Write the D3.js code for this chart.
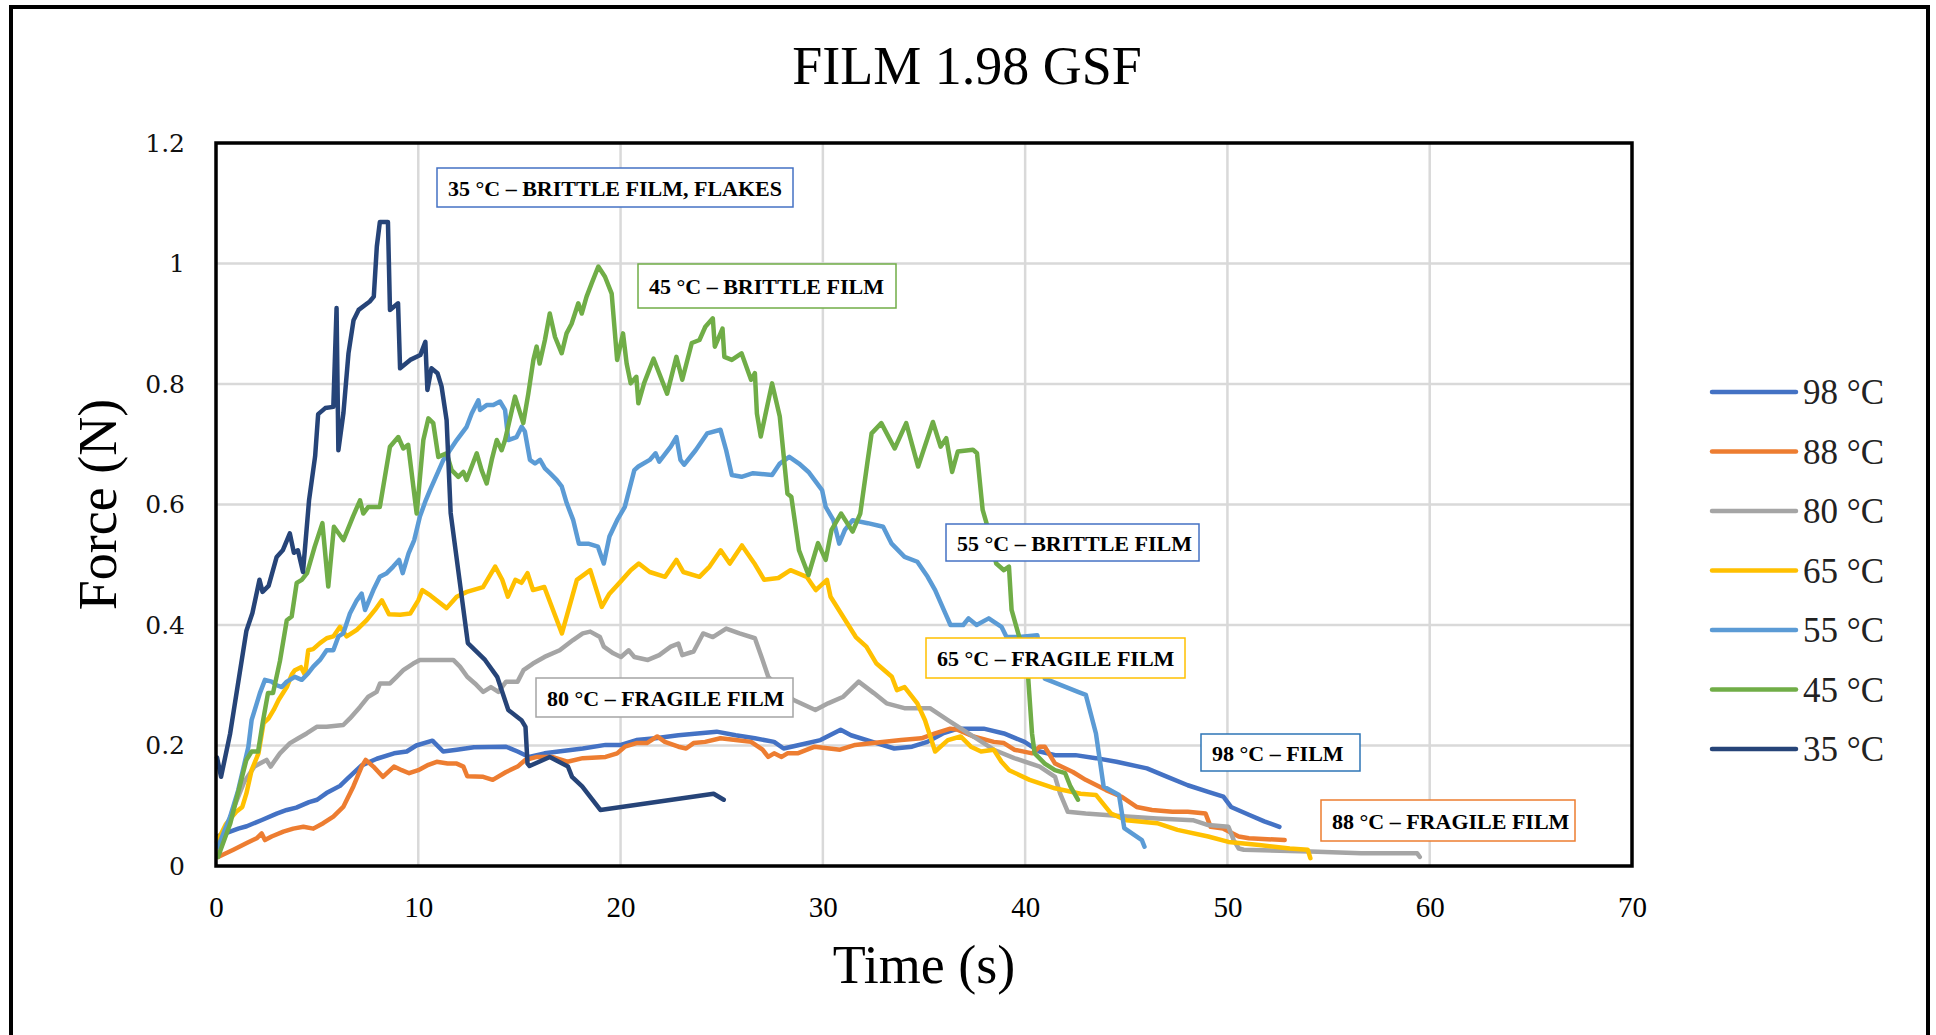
<!DOCTYPE html>
<html>
<head>
<meta charset="utf-8">
<script src="https://cdn.jsdelivr.net/npm/d3@7/dist/d3.min.js"></script>
<style>
    body { margin: 0; background: #fff; }
</style>
</head>
<body>
<svg id="chart" width="1936" height="1035"></svg>
<script>
// ---- data (time s, force N) ----
var xTicks = [0, 10, 20, 30, 40, 50, 60, 70];
var yTicks = [0, 0.2, 0.4, 0.6, 0.8, 1, 1.2];
var seriesNames = ["98 °C", "88 °C", "80 °C", "65 °C", "55 °C", "45 °C", "35 °C"];

var f98 = [[0.06,0.049],[0.53,0.055],[1.1,0.062],[1.52,0.066],[2.24,0.076],[3.0,0.087],[3.5,0.093],[3.97,0.097],[4.6,0.106],[5.0,0.11],[5.46,0.121],[6.13,0.133],[6.5,0.145],[7.2,0.167],[7.95,0.178],[8.8,0.187],[9.43,0.19],[9.9,0.2],[10.7,0.208],[11.23,0.19],[11.9,0.193],[12.75,0.197],[14.34,0.198],[14.91,0.19],[15.48,0.181],[16.24,0.187],[18.13,0.195],[19.26,0.201],[20.02,0.201],[20.78,0.209],[21.72,0.212],[22.86,0.217],[23.8,0.22],[24.75,0.223],[25.69,0.217],[26.64,0.212],[27.59,0.206],[28.06,0.195],[28.72,0.2],[29.88,0.209],[30.88,0.226],[31.39,0.217],[32.65,0.204],[33.53,0.195],[34.41,0.198],[35.17,0.206],[35.93,0.22],[36.68,0.228],[37.95,0.228],[38.95,0.22],[39.97,0.206],[40.72,0.19],[41.48,0.184],[42.49,0.184],[43.5,0.179],[44.51,0.173],[46.02,0.162],[47.03,0.148],[48.04,0.134],[49.05,0.123],[49.8,0.115],[50.18,0.098],[51.06,0.085],[51.82,0.074],[52.57,0.065]];

var f88 = [[0.1,0.015],[0.86,0.027],[1.52,0.038],[2.01,0.046],[2.26,0.054],[2.42,0.043],[2.75,0.049],[3.33,0.057],[3.82,0.062],[4.32,0.065],[4.81,0.062],[5.3,0.071],[5.8,0.082],[6.29,0.098],[6.79,0.132],[7.2,0.165],[7.4,0.176],[7.78,0.165],[8.25,0.148],[8.8,0.165],[9.18,0.159],[9.55,0.154],[10.0,0.159],[10.5,0.168],[10.91,0.173],[11.45,0.17],[11.9,0.17],[12.23,0.165],[12.42,0.149],[13.21,0.148],[13.68,0.143],[14.34,0.156],[14.91,0.165],[15.29,0.176],[15.86,0.181],[16.61,0.181],[17.37,0.173],[18.13,0.179],[19.26,0.181],[19.83,0.187],[20.21,0.198],[20.78,0.204],[21.3,0.204],[21.81,0.215],[22.19,0.206],[22.86,0.198],[23.24,0.195],[23.61,0.204],[24.18,0.206],[24.94,0.212],[25.69,0.209],[26.45,0.206],[27.02,0.193],[27.3,0.181],[27.59,0.187],[27.96,0.181],[28.25,0.187],[28.75,0.187],[29.6,0.198],[30.85,0.193],[31.6,0.201],[32.48,0.204],[33.87,0.209],[34.87,0.212],[35.55,0.22],[36.3,0.228],[36.68,0.226],[37.44,0.215],[38.45,0.206],[38.95,0.204],[39.46,0.193],[40.35,0.187],[40.72,0.198],[40.97,0.198],[41.48,0.17],[42.36,0.156],[42.99,0.143],[44.0,0.126],[44.76,0.115],[45.51,0.098],[46.27,0.093],[47.28,0.09],[48.04,0.09],[48.92,0.087],[49.17,0.065],[49.8,0.062],[50.56,0.049],[51.06,0.046],[52.83,0.043]];

var f80 = [[0.1,0.02],[0.8,0.09],[1.4,0.14],[1.9,0.165],[2.17,0.17],[2.5,0.176],[2.7,0.165],[3.16,0.187],[3.66,0.204],[4.07,0.212],[4.48,0.22],[4.98,0.231],[5.47,0.231],[6.29,0.234],[6.62,0.245],[7.12,0.264],[7.53,0.281],[7.94,0.289],[8.11,0.303],[8.6,0.303],[8.93,0.314],[9.26,0.325],[9.75,0.336],[10.08,0.342],[10.74,0.342],[11.73,0.342],[12.06,0.331],[12.42,0.314],[12.8,0.303],[13.21,0.289],[13.59,0.297],[13.96,0.289],[14.34,0.306],[14.91,0.306],[15.2,0.325],[15.67,0.336],[16.24,0.347],[16.99,0.358],[17.65,0.375],[18.13,0.386],[18.5,0.389],[18.98,0.38],[19.17,0.364],[19.64,0.353],[20.02,0.347],[20.4,0.358],[20.68,0.347],[21.35,0.342],[21.91,0.35],[22.48,0.364],[22.86,0.369],[23.05,0.35],[23.61,0.356],[24.08,0.386],[24.56,0.38],[25.22,0.394],[25.88,0.386],[26.64,0.378],[27.02,0.342],[27.3,0.314],[28.15,0.287],[28.53,0.276],[29.63,0.259],[30.26,0.27],[31.01,0.281],[31.77,0.306],[32.52,0.287],[33.15,0.27],[34.03,0.262],[35.29,0.262],[36.18,0.242],[37.2,0.22],[38.45,0.193],[39.46,0.179],[40.72,0.165],[41.48,0.148],[41.73,0.12],[42.11,0.09],[42.99,0.087],[45.01,0.082],[46.52,0.079],[48.29,0.076],[49.05,0.068],[50.05,0.065],[50.31,0.043],[50.56,0.029],[50.81,0.027],[54.09,0.024],[56.61,0.021],[59.38,0.021],[59.51,0.015]];

var f65 = [[0.05,0.04],[0.5,0.07],[1.0,0.09],[1.3,0.098],[1.5,0.12],[1.76,0.159],[2.1,0.187],[2.35,0.237],[2.6,0.245],[2.85,0.259],[3.1,0.276],[3.5,0.297],[3.75,0.318],[3.9,0.325],[4.2,0.33],[4.4,0.317],[4.56,0.358],[4.8,0.36],[5.14,0.37],[5.47,0.378],[5.8,0.381],[6.13,0.397],[6.46,0.381],[6.96,0.392],[7.45,0.408],[7.86,0.425],[8.2,0.441],[8.55,0.418],[9.1,0.417],[9.6,0.419],[10.0,0.441],[10.2,0.458],[10.6,0.449],[11.4,0.428],[11.9,0.447],[12.4,0.455],[13.2,0.463],[13.8,0.497],[14.15,0.475],[14.43,0.447],[14.8,0.475],[15.1,0.47],[15.4,0.486],[15.67,0.458],[16.23,0.463],[17.1,0.386],[17.84,0.475],[18.5,0.491],[19.07,0.43],[19.45,0.452],[20.0,0.472],[20.5,0.491],[20.9,0.502],[21.44,0.488],[22.2,0.48],[22.76,0.508],[23.1,0.488],[23.9,0.48],[24.4,0.497],[24.95,0.524],[25.4,0.502],[26.0,0.532],[26.6,0.503],[27.1,0.475],[27.8,0.478],[28.4,0.491],[29.2,0.48],[29.65,0.458],[30.2,0.475],[30.38,0.447],[31.63,0.38],[32.15,0.364],[32.65,0.336],[33.41,0.314],[33.66,0.292],[34.04,0.297],[34.67,0.27],[35.05,0.242],[35.55,0.19],[36.18,0.209],[36.81,0.215],[37.32,0.198],[37.82,0.19],[38.45,0.193],[38.83,0.173],[39.21,0.159],[40.22,0.143],[41.47,0.129],[42.74,0.12],[43.5,0.118],[44.25,0.087],[45.01,0.076],[46.52,0.071],[47.53,0.06],[49.05,0.049],[50.05,0.04],[51.57,0.035],[53.08,0.029],[53.97,0.027],[54.1,0.013]];

var f55 = [[0.1,0.032],[0.7,0.082],[1.1,0.126],[1.6,0.198],[1.76,0.242],[2.17,0.287],[2.42,0.309],[2.75,0.306],[3.0,0.3],[3.25,0.297],[3.5,0.306],[3.9,0.314],[4.24,0.309],[4.56,0.32],[4.81,0.331],[5.14,0.342],[5.47,0.358],[5.8,0.358],[6.05,0.381],[6.29,0.386],[6.62,0.419],[6.96,0.441],[7.2,0.452],[7.37,0.425],[7.78,0.458],[8.1,0.48],[8.44,0.486],[8.76,0.497],[9.05,0.508],[9.23,0.486],[9.52,0.519],[9.8,0.541],[10.08,0.58],[10.37,0.607],[10.58,0.624],[11.24,0.674],[11.9,0.707],[12.39,0.729],[12.64,0.751],[12.97,0.773],[13.05,0.757],[13.38,0.765],[13.71,0.765],[14.04,0.771],[14.29,0.757],[14.45,0.707],[14.86,0.712],[15.11,0.729],[15.27,0.721],[15.52,0.674],[15.77,0.668],[16.02,0.674],[16.26,0.66],[16.51,0.652],[16.84,0.641],[17.09,0.63],[17.34,0.602],[17.66,0.574],[17.94,0.535],[18.4,0.535],[18.88,0.53],[19.17,0.502],[19.45,0.547],[19.83,0.574],[20.21,0.596],[20.68,0.657],[20.88,0.663],[21.44,0.674],[21.73,0.685],[21.91,0.671],[22.48,0.696],[22.76,0.712],[22.96,0.674],[23.14,0.666],[23.71,0.69],[24.28,0.718],[24.94,0.724],[25.22,0.69],[25.5,0.649],[25.98,0.646],[26.55,0.652],[27.49,0.649],[27.87,0.668],[28.34,0.679],[28.82,0.668],[29.29,0.654],[29.96,0.624],[30.14,0.596],[30.52,0.574],[30.81,0.535],[31.09,0.558],[31.47,0.574],[32.22,0.569],[32.98,0.563],[33.4,0.535],[34.04,0.513],[34.67,0.505],[35.18,0.48],[35.55,0.458],[36.06,0.419],[36.31,0.4],[36.94,0.4],[37.2,0.411],[37.6,0.4],[38.2,0.411],[38.83,0.397],[39.08,0.38],[39.71,0.38],[40.6,0.383],[40.97,0.311],[42.61,0.289],[43.0,0.284],[43.5,0.22],[43.88,0.132],[44.64,0.118],[44.9,0.063],[45.77,0.043],[45.9,0.032]];

var f45 = [[0.1,0.015],[0.7,0.07],[1.5,0.176],[1.76,0.19],[2.08,0.19],[2.32,0.24],[2.57,0.287],[2.82,0.287],[3.16,0.34],[3.5,0.408],[3.74,0.414],[3.99,0.47],[4.24,0.475],[4.5,0.486],[4.88,0.53],[5.26,0.569],[5.55,0.464],[5.83,0.563],[6.3,0.541],[6.77,0.58],[7.12,0.607],[7.28,0.585],[7.53,0.596],[8.1,0.596],[8.6,0.696],[9.01,0.712],[9.26,0.693],[9.5,0.699],[9.92,0.585],[10.25,0.707],[10.5,0.743],[10.74,0.735],[10.99,0.679],[11.4,0.685],[11.65,0.657],[11.98,0.646],[12.23,0.654],[12.39,0.641],[12.89,0.685],[13.13,0.657],[13.38,0.635],[13.63,0.674],[13.88,0.707],[14.12,0.69],[14.29,0.707],[14.78,0.779],[15.19,0.735],[15.44,0.784],[15.69,0.84],[15.85,0.862],[16.0,0.834],[16.26,0.873],[16.5,0.917],[16.76,0.878],[17.09,0.851],[17.33,0.884],[17.58,0.9],[17.91,0.934],[18.08,0.917],[18.32,0.945],[18.57,0.967],[18.9,0.995],[19.23,0.978],[19.56,0.95],[19.83,0.84],[20.12,0.884],[20.3,0.834],[20.5,0.801],[20.78,0.812],[20.88,0.768],[21.16,0.801],[21.63,0.842],[22.3,0.784],[22.76,0.845],[23.05,0.807],[23.52,0.868],[23.9,0.873],[24.19,0.895],[24.56,0.909],[24.66,0.862],[25.04,0.892],[25.13,0.845],[25.5,0.84],[25.98,0.851],[26.45,0.807],[26.64,0.818],[26.74,0.751],[26.93,0.713],[27.49,0.801],[27.87,0.746],[28.25,0.618],[28.44,0.613],[28.82,0.524],[29.29,0.483],[29.76,0.536],[30.14,0.508],[30.43,0.558],[30.9,0.585],[31.47,0.555],[31.85,0.585],[32.22,0.674],[32.41,0.718],[32.89,0.735],[33.55,0.693],[34.12,0.735],[34.71,0.663],[35.44,0.737],[35.82,0.696],[36.1,0.71],[36.39,0.654],[36.67,0.688],[37.42,0.691],[37.62,0.685],[37.9,0.591],[38.09,0.569],[38.57,0.502],[38.95,0.491],[39.2,0.497],[39.33,0.425],[39.71,0.38],[40.09,0.342],[40.34,0.22],[40.47,0.187],[40.97,0.17],[41.47,0.159],[41.98,0.154],[42.24,0.132],[42.61,0.11]];

var f35 = [[0.05,0.18],[0.25,0.148],[0.7,0.22],[1.5,0.39],[1.8,0.42],[2.15,0.475],[2.3,0.455],[2.6,0.465],[3.0,0.513],[3.3,0.524],[3.65,0.552],[3.85,0.52],[4.05,0.524],[4.3,0.488],[4.6,0.607],[4.9,0.68],[5.05,0.75],[5.4,0.76],[5.8,0.762],[5.96,0.926],[6.05,0.69],[6.3,0.752],[6.55,0.851],[6.8,0.906],[7.05,0.923],[7.6,0.937],[7.8,0.945],[7.95,1.028],[8.1,1.069],[8.5,1.069],[8.6,0.923],[9.0,0.934],[9.1,0.826],[9.6,0.84],[10.1,0.848],[10.35,0.87],[10.45,0.79],[10.65,0.826],[10.95,0.818],[11.15,0.796],[11.4,0.74],[11.6,0.586],[12.45,0.37],[13.3,0.342],[13.9,0.314],[14.45,0.259],[15.1,0.242],[15.3,0.231],[15.4,0.17],[15.5,0.166],[16.5,0.181],[17.4,0.165],[17.6,0.148],[18.1,0.132],[19.0,0.093],[24.6,0.12],[25.1,0.11]];

var allSeries = [f98, f88, f80, f65, f55, f45, f35];
var colors = ["#4472C4", "#ED7D31", "#A5A5A5", "#FFC000", "#5B9BD5", "#70AD47", "#264478"];

var noteTexts = ["35 °C – BRITTLE FILM, FLAKES", "45 °C – BRITTLE FILM", "55 °C – BRITTLE FILM",
    "65 °C – FRAGILE FILM", "80 °C – FRAGILE FILM", "98 °C – FILM", "88 °C – FRAGILE FILM"];
// box layout in page pixels: left, top, width, height, border colour
var noteBoxes = [[437, 168, 356, 39, "#4472C4"], [638, 264, 258, 44, "#70AD47"], [946, 524, 253, 37, "#4472C4"],
    [926, 638, 259, 40, "#FFC000"], [536, 678, 257, 39, "#A5A5A5"], [1201, 734, 159, 37, "#2E75B6"],
    [1321, 800, 254, 41, "#ED7D31"]];

// ---- layout ----
var margin = { top: 143, right: 304, bottom: 169, left: 216 },
    W = 1936, H = 1035,
    width = W - margin.left - margin.right,
    height = H - margin.top - margin.bottom;

var serif = "'Liberation Serif', 'Times New Roman', serif";

var svg = d3.select("#chart");

// outer frame (open at the bottom, as in the picture)
svg.append("path")
    .attr("d", "M11,1040 V7 H1928 V1040")
    .attr("fill", "none")
    .attr("stroke", "#000")
    .attr("stroke-width", 4);

svg.append("text")
    .attr("x", 967).attr("y", 84)
    .attr("text-anchor", "middle")
    .style("font-family", serif).style("font-size", "54px")
    .text("FILM 1.98 GSF");

var g = svg.append("g").attr("transform", "translate(" + margin.left + "," + margin.top + ")");

var x = d3.scaleLinear().domain([0, 70]).range([0, width]);
var y = d3.scaleLinear().domain([0, 1.2]).range([height, 0]);

// grid
g.append("g").selectAll("line.v")
    .data(xTicks.slice(1, -1))
    .join("line")
    .attr("x1", d => x(d)).attr("x2", d => x(d))
    .attr("y1", 0).attr("y2", height)
    .attr("stroke", "#d9d9d9").attr("stroke-width", 2.5);
g.append("g").selectAll("line.h")
    .data(yTicks.slice(1, -1))
    .join("line")
    .attr("x1", 0).attr("x2", width)
    .attr("y1", d => y(d)).attr("y2", d => y(d))
    .attr("stroke", "#d9d9d9").attr("stroke-width", 2.5);

// axes labels (drawn with d3 axes, lines hidden)
var xAxis = g.append("g")
    .attr("transform", "translate(0," + height + ")")
    .call(d3.axisBottom(x).tickValues(xTicks).tickSize(0).tickPadding(30).tickFormat(d3.format("d")));
xAxis.select(".domain").remove();
xAxis.selectAll("text").style("font-family", serif).style("font-size", "29px").attr("fill", "#000");

var yAxis = g.append("g")
    .call(d3.axisLeft(y).tickValues(yTicks).tickSize(0).tickPadding(31).tickFormat(d => d3.format("")(+d.toFixed(1))));
yAxis.select(".domain").remove();
yAxis.selectAll("text").style("font-family", "'DejaVu Serif', serif").style("font-size", "25px").attr("fill", "#111");

// series
var line = d3.line().x(d => x(d[0])).y(d => y(d[1]));
g.append("g").selectAll("path")
    .data(allSeries)
    .join("path")
    .attr("d", line)
    .attr("fill", "none")
    .attr("stroke", (d, i) => colors[i])
    .attr("stroke-width", 4.5)
    .attr("stroke-linejoin", "round")
    .attr("stroke-linecap", "round");

// plot border
g.append("rect")
    .attr("width", width).attr("height", height)
    .attr("fill", "none").attr("stroke", "#000").attr("stroke-width", 3.5);

// annotation boxes
var notes = svg.append("g").selectAll("g")
    .data(noteTexts)
    .join("g")
    .attr("transform", (d, i) => "translate(" + noteBoxes[i][0] + "," + noteBoxes[i][1] + ")");
notes.append("rect")
    .attr("width", (d, i) => noteBoxes[i][2])
    .attr("height", (d, i) => noteBoxes[i][3])
    .attr("fill", "#fff")
    .attr("stroke", (d, i) => noteBoxes[i][4])
    .attr("stroke-width", 1.5);
notes.append("text")
    .attr("x", 11)
    .attr("y", (d, i) => noteBoxes[i][3] / 2 + 8)
    .style("font-family", serif).style("font-size", "22px").style("font-weight", "bold")
    .text(d => d);

// axis titles
svg.append("text")
    .attr("transform", "translate(116," + (margin.top + height / 2) + ") rotate(-90)")
    .attr("text-anchor", "middle")
    .style("font-family", serif).style("font-size", "54px")
    .text("Force (N)");
svg.append("text")
    .attr("x", margin.left + width / 2).attr("y", 983)
    .attr("text-anchor", "middle")
    .style("font-family", serif).style("font-size", "54px")
    .text("Time (s)");

// legend
var legend = svg.append("g").attr("transform", "translate(1712,392)");
var item = legend.selectAll("g")
    .data(seriesNames)
    .join("g")
    .attr("transform", (d, i) => "translate(0," + (i * 59.5) + ")");
item.append("line")
    .attr("x1", 0).attr("x2", 84)
    .attr("stroke", (d, i) => colors[i])
    .attr("stroke-width", 4.5)
    .attr("stroke-linecap", "round");
item.append("text")
    .attr("x", 91).attr("y", 12)
    .style("font-family", serif).style("font-size", "35px")
    .attr("fill", "#222")
    .text(d => d);
</script>
</body>
</html>
